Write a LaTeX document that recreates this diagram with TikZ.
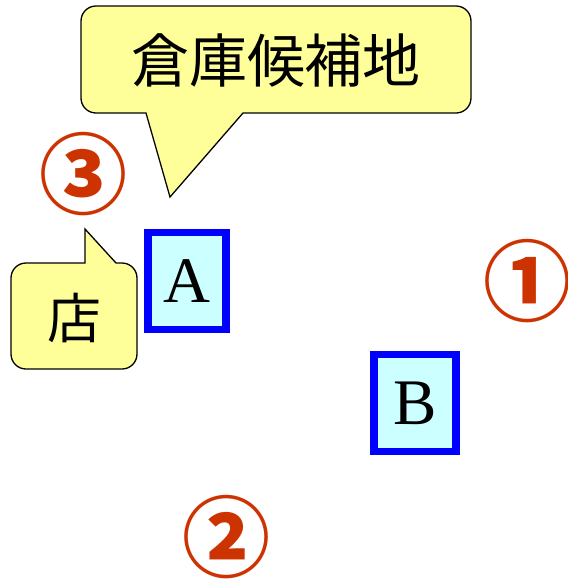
\documentclass[tikz,border=0pt]{standalone}
\usepackage{fontspec}
\setmainfont{Liberation Serif}
\newfontfamily\jpfont{Noto Sans CJK JP}
\usepackage{tikz}
\usetikzlibrary{positioning}
\definecolor{calloutyellow}{HTML}{FFFF99}
\definecolor{sitecyan}{HTML}{CCFFFF}
\definecolor{numred}{HTML}{CC3300}
\tikzset{
	callout/.style={draw=black, line width=1.3pt, fill=calloutyellow},
	calltext/.style={font=\jpfont\fontsize{58}{60}\selectfont, inner sep=0pt},
	site/.style={draw=blue, line width=7.5pt, fill=sitecyan, minimum width=78pt, minimum height=97pt, inner sep=0pt, font=\fontsize{65}{66}\selectfont},
	num/.style={text=numred, inner sep=0pt, font=\jpfont\bfseries\fontsize{88}{90}\selectfont},
}

\begin{document}
\begin{tikzpicture}[x=1pt, y=-1pt]
			\useasboundingbox (0,0) rectangle (568,579);
			% Callouts
			\draw [callout] (170,197) -- (243,113) [rounded corners=15pt] -- (471,113) -- (471,6) -- (81,6) -- (81,113) [sharp corners] -- (146,113) -- cycle;
			\draw [callout] (85,229) -- (116,263) [rounded corners=15pt] -- (137,263) -- (137,369) -- (11,369) -- (11,263) [sharp corners] -- (85,263) -- cycle;
			\node [calltext] (warehouse) at (276,60) {倉庫候補地};
			\node [calltext, font=\jpfont\fontsize{54}{56}\selectfont] (store) at (74,318) {店};
			% Sites
			\node [site] (A) at (187,281) {A};
			\node [site, minimum width=82pt] (B) at (415,403) {B};
			% Numbers
			\node [num] (n1) at (527,281) {①};
			\node [num] (n2) at (226,537) {②};
			\node [num] (n3) at (83,174) {③};
		\end{tikzpicture}
\end{document}
